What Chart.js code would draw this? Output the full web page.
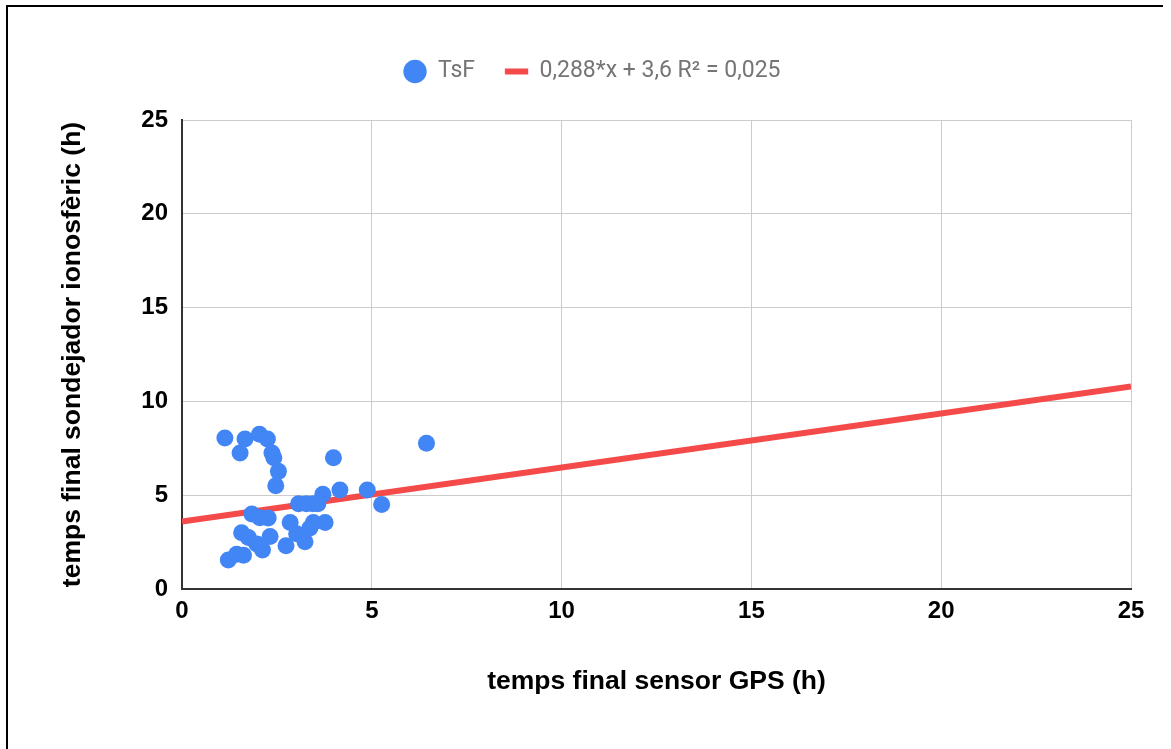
<!DOCTYPE html>
<html>
<head>
<meta charset="utf-8">
<script src="https://cdn.jsdelivr.net/npm/chart.js@4.4.1/dist/chart.umd.min.js"></script>
<style>
  html, body { margin: 0; padding: 0; background: #fff; }
  #wrap { position: relative; width: 1171px; height: 749px; overflow: hidden; }
  #frame { position: absolute; left: 6px; top: 5px; width: 1155px; height: 760px;
           border-left: 2px solid #000; border-top: 2px solid #000; }
  canvas { position: absolute; left: 0; top: 0; }
</style>
</head>
<body>
<div id="wrap">
  <div id="frame"></div>
  <canvas id="c" width="1171" height="749"></canvas>
</div>
<script>
// Observations: final time from the GPS sensor (h) vs. final time from the ionosonde (h)
const gpsHours = [1.13, 1.66, 1.53, 2.04, 2.25, 2.37, 2.42, 2.54, 2.47, 3.99,
                  4.16, 4.88, 5.26, 3.71, 3.07, 3.28, 3.45, 3.58, 1.84, 2.05,
                  2.27, 2.85, 3.46, 3.77, 3.37, 1.57, 1.75, 2.32, 1.97, 2.12,
                  2.74, 3.02, 3.24, 1.22, 1.44, 1.62, 6.44];
const ionoHours = [8.05, 8.0, 7.25, 8.25, 8.0, 7.25, 7.0, 6.27, 5.5, 7.0,
                   5.28, 5.28, 4.5, 5.05, 4.55, 4.55, 4.55, 4.55, 4.0, 3.8,
                   3.78, 3.55, 3.55, 3.55, 3.25, 3.0, 2.75, 2.8, 2.4, 2.08,
                   2.3, 2.95, 2.52, 1.55, 1.85, 1.8, 7.77];

// Linear trend line
const trendSlope = 0.288;
const trendIntercept = 3.6;
const trendRange = [0, 25];

const seriesName = 'TsF';
const trendLabel = '0,288*x + 3,6 R² = 0,025';
const xTitle = 'temps final sensor GPS (h)';
const yTitle = 'temps final sondejador ionosfèric (h)';
const axisTicks = [0, 5, 10, 15, 20, 25];

const points = gpsHours.map((x, i) => ({ x, y: ionoHours[i] }));
const trendPoints = trendRange.map(x => ({ x, y: trendSlope * x + trendIntercept }));

const tickFont = { family: 'Arial, "Liberation Sans", sans-serif', size: 24, weight: 'bold' };
const titleFont = { family: 'Arial, "Liberation Sans", sans-serif', size: 26.5, weight: 'bold' };

// Extra room between the legend row and the plot
const legendGap = {
  id: 'legendGap',
  beforeInit(chart) {
    const legend = chart.legend;
    if (!legend) return;
    const fit = legend.fit;
    legend.fit = function () { fit.call(this); this.height += 27; };
  }
};

new Chart(document.getElementById('c'), {
  type: 'scatter',
  plugins: [legendGap],
  data: {
    datasets: [
      {
        label: seriesName,
        data: points,
        backgroundColor: '#4285f4',
        borderColor: '#4285f4',
        borderWidth: 0,
        pointRadius: 8.5,
        pointHoverRadius: 8.5,
        pointStyle: 'circle',
        order: 0
      },
      {
        type: 'line',
        label: trendLabel,
        data: trendPoints,
        borderColor: '#f44a4a',
        backgroundColor: '#f44a4a',
        borderWidth: 6,
        pointRadius: 0,
        pointStyle: 'line',
        fill: false,
        order: 1
      }
    ]
  },
  options: {
    responsive: false,
    animation: false,
    layout: { padding: { left: 53, right: 40, top: 30, bottom: 47 } },
    plugins: {
      legend: {
        position: 'top',
        labels: {
          usePointStyle: true,
          boxWidth: 23,
          boxHeight: 16.5,
          padding: 30,
          color: '#757575',
          font: { family: 'Roboto, sans-serif', size: 23 }
        }
      },
      tooltip: { enabled: false }
    },
    scales: {
      x: {
        type: 'linear',
        min: 0, max: 25,
        afterBuildTicks: s => { s.ticks = axisTicks.map(v => ({ value: v })); },
        afterFit: s => { s.height = 749 - 589 - 47; },
        grid: { color: '#cccccc', lineWidth: 1, drawTicks: false },
        border: { display: true, color: '#333333', width: 2 },
        ticks: { color: '#000', font: tickFont, padding: 8 },
        title: { display: true, text: xTitle, color: '#000', font: titleFont }
      },
      y: {
        type: 'linear',
        min: 0, max: 25,
        afterBuildTicks: s => { s.ticks = axisTicks.map(v => ({ value: v })); },
        afterFit: s => { s.width = 182 - 53; },
        grid: { color: '#cccccc', lineWidth: 1, drawTicks: false },
        border: { display: true, color: '#333333', width: 2 },
        ticks: { color: '#000', font: tickFont, padding: 14 },
        title: { display: true, text: yTitle, color: '#000', font: titleFont }
      }
    }
  }
});
</script>
</body>
</html>
